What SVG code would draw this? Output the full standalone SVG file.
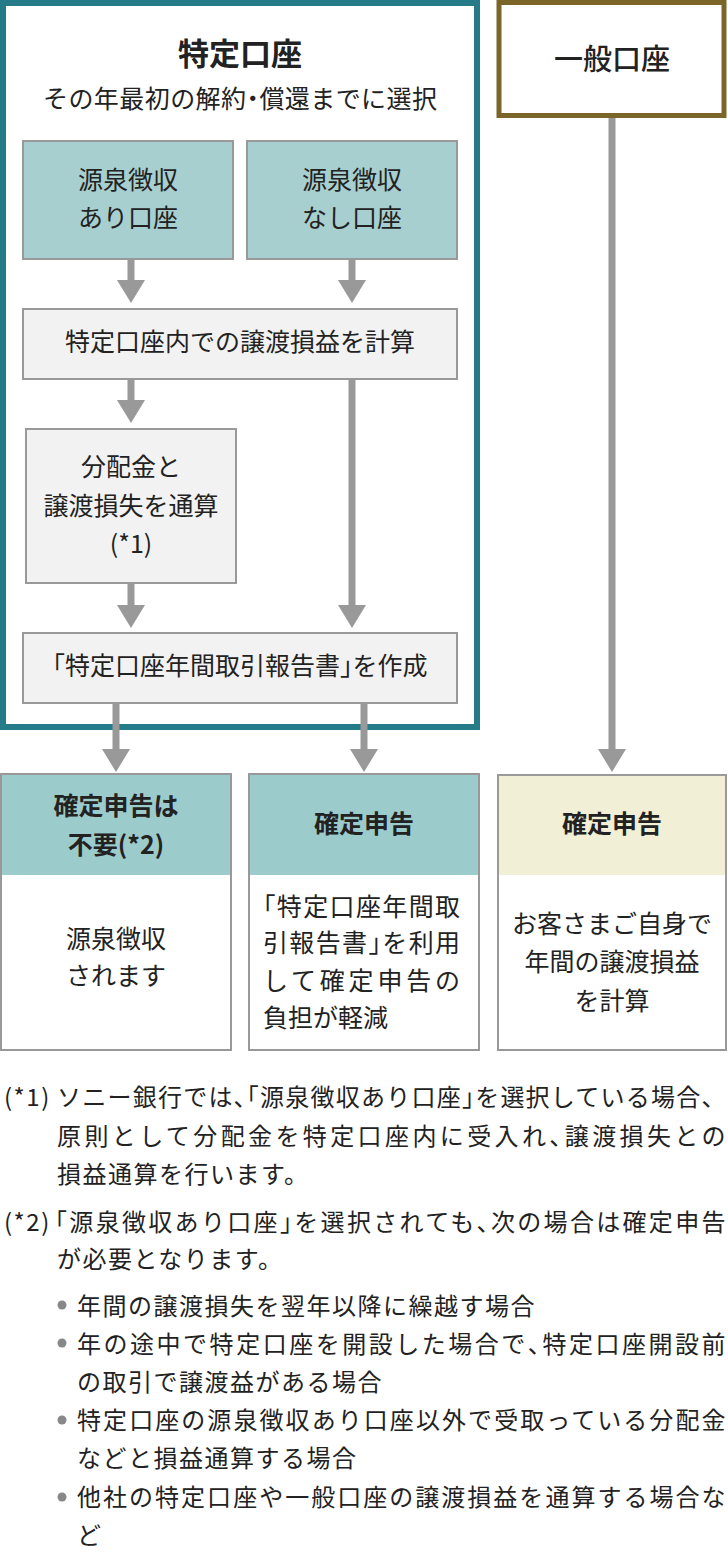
<svg xmlns="http://www.w3.org/2000/svg" width="728" height="1552" viewBox="0 0 728 1552">
<style>
text{font-family:"Noto Sans CJK JP","Noto Sans",sans-serif;fill:#222;}
.c{text-anchor:middle;font-size:25px;}
.b{font-weight:700;}
.n{font-size:25px;}
.f{font-size:24px;letter-spacing:1.5px;}
.h{font-feature-settings:"halt";}
.box{fill:#f2f2f2;stroke:#999;stroke-width:2;}
.tb{fill:#a8cfcf;stroke:#999;stroke-width:2;}
.wb{fill:#fff;stroke:#999;stroke-width:2;}
.sh{stroke:#999;stroke-width:7;fill:none;}
.ah{fill:#999;}
</style>
<rect width="728" height="1552" fill="#fff"/>
<g id="tokutei-frame">
<rect x="3" y="3" width="474" height="724" fill="#fff" stroke="#257b87" stroke-width="6"/>
<text x="240" y="65" text-anchor="middle" font-size="31" class="b">特定口座</text>
<text x="240" y="108" class="c" textLength="394" lengthAdjust="spacing">その年最初の解約<tspan class="h">・</tspan>償還までに選択</text>
</g>
<g id="ippan-frame">
<rect x="499" y="2.5" width="225" height="113" fill="#fff" stroke="#7b6528" stroke-width="5"/>
<text x="612" y="70" text-anchor="middle" font-size="29" font-weight="500">一般口座</text>
</g>
<g id="connectors">
<line class="sh" x1="131" y1="259" x2="131" y2="284"/><polygon class="ah" points="117,280 145,280 131,303"/>
<line class="sh" x1="352" y1="259" x2="352" y2="284"/><polygon class="ah" points="338,280 366,280 352,303"/>
<line class="sh" x1="131" y1="379" x2="131" y2="404"/><polygon class="ah" points="117,400 145,400 131,423"/>
<line class="sh" x1="352" y1="379" x2="352" y2="609"/><polygon class="ah" points="338,605 366,605 352,628"/>
<line class="sh" x1="131" y1="583" x2="131" y2="609"/><polygon class="ah" points="117,605 145,605 131,628"/>
<line class="sh" x1="116" y1="703" x2="116" y2="752"/><polygon class="ah" points="102,749 130,749 116,772"/>
<line class="sh" x1="364" y1="703" x2="364" y2="752"/><polygon class="ah" points="350,749 378,749 364,772"/>
<line class="sh" x1="612" y1="118" x2="612" y2="752"/><polygon class="ah" points="598,749 626,749 612,772"/>
</g>
<g id="gensen-ari">
<rect class="tb" x="23" y="141" width="210" height="118"/>
<text x="128" y="189" class="c">源泉徴収</text>
<text x="128" y="227" class="c">あり口座</text>
</g>
<g id="gensen-nashi">
<rect class="tb" x="247" y="141" width="210" height="118"/>
<text x="352" y="189" class="c">源泉徴収</text>
<text x="352" y="227" class="c">なし口座</text>
</g>
<g id="keisan">
<rect class="box" x="23" y="309" width="434" height="70"/>
<text x="240" y="351" class="c">特定口座内での譲渡損益を計算</text>
</g>
<g id="tsusan">
<rect class="box" x="26" y="429" width="210" height="154"/>
<text x="131" y="476" class="c">分配金と</text>
<text x="131" y="515" class="c">譲渡損失を通算</text>
<text x="131" y="553" class="c">(*1)</text>
</g>
<g id="houkokusho">
<rect class="box" x="23" y="633" width="434" height="70"/>
<text x="240" y="675" class="c"><tspan class="h">「</tspan>特定口座年間取引報告書<tspan class="h">」</tspan>を作成</text>
</g>
<g id="fuyou">
<rect class="wb" x="1" y="774" width="230" height="276"/>
<rect x="2" y="775" width="228" height="100" fill="#9ccbcc"/>
<text x="116" y="815" class="c b">確定申告は</text>
<text x="116" y="854" class="c b">不要(*2)</text>
<text x="116" y="948" class="c">源泉徴収</text>
<text x="116" y="985" class="c">されます</text>
</g>
<g id="shinkoku-tokutei">
<rect class="wb" x="249" y="774" width="230" height="276"/>
<rect x="250" y="775" width="228" height="100" fill="#9ccbcc"/>
<text x="364" y="833" class="c b">確定申告</text>
<text x="263" y="916" class="n" textLength="197" lengthAdjust="spacing"><tspan class="h">「</tspan>特定口座年間取</text>
<text x="263" y="952" class="n" textLength="197" lengthAdjust="spacing">引報告書<tspan class="h">」</tspan>を利用</text>
<text x="263" y="990" class="n" textLength="197" lengthAdjust="spacing">して確定申告の</text>
<text x="263" y="1027" class="n">負担が軽減</text>
</g>
<g id="shinkoku-ippan">
<rect class="wb" x="498" y="775" width="228" height="275"/>
<rect x="499" y="776" width="226" height="99" fill="#f1efd6"/>
<text x="612" y="833" class="c b">確定申告</text>
<text x="612" y="933" class="c">お客さまご自身で</text>
<text x="612" y="971" class="c">年間の譲渡損益</text>
<text x="612" y="1010" class="c">を計算</text>
</g>
<g id="notes">
<text x="4" y="1106" class="f">(*1)</text>
<text x="57" y="1106" class="f" textLength="670" lengthAdjust="spacing">ソニー銀行では<tspan class="h">、「</tspan>源泉徴収あり口座<tspan class="h">」</tspan>を選択している場合、</text>
<text x="57" y="1145" class="f" textLength="670" lengthAdjust="spacing">原則として分配金を特定口座内に受入れ<tspan class="h">、</tspan>譲渡損失との</text>
<text x="57" y="1183" class="f">損益通算を行います。</text>
<text x="4" y="1231" class="f">(*2)</text>
<text x="55" y="1231" class="f" textLength="672" lengthAdjust="spacing"><tspan class="h">「</tspan>源泉徴収あり口座<tspan class="h">」</tspan>を選択されても<tspan class="h">、</tspan>次の場合は確定申告</text>
<text x="57" y="1268" class="f">が必要となります。</text>
<circle cx="62" cy="1305" r="4.5" fill="#888"/>
<text x="77" y="1315" class="f">年間の譲渡損失を翌年以降に繰越す場合</text>
<circle cx="62" cy="1343" r="4.5" fill="#888"/>
<text x="77" y="1353" class="f" textLength="650" lengthAdjust="spacing">年の途中で特定口座を開設した場合で<tspan class="h">、</tspan>特定口座開設前</text>
<text x="77" y="1391" class="f">の取引で譲渡益がある場合</text>
<circle cx="62" cy="1420" r="4.5" fill="#888"/>
<text x="77" y="1429" class="f" textLength="650" lengthAdjust="spacing">特定口座の源泉徴収あり口座以外で受取っている分配金</text>
<text x="77" y="1467" class="f">などと損益通算する場合</text>
<circle cx="62" cy="1497" r="4.5" fill="#888"/>
<text x="77" y="1506" class="f" textLength="650" lengthAdjust="spacing">他社の特定口座や一般口座の譲渡損益を通算する場合な</text>
<text x="77" y="1544" class="f">ど</text>
</g>
</svg>
